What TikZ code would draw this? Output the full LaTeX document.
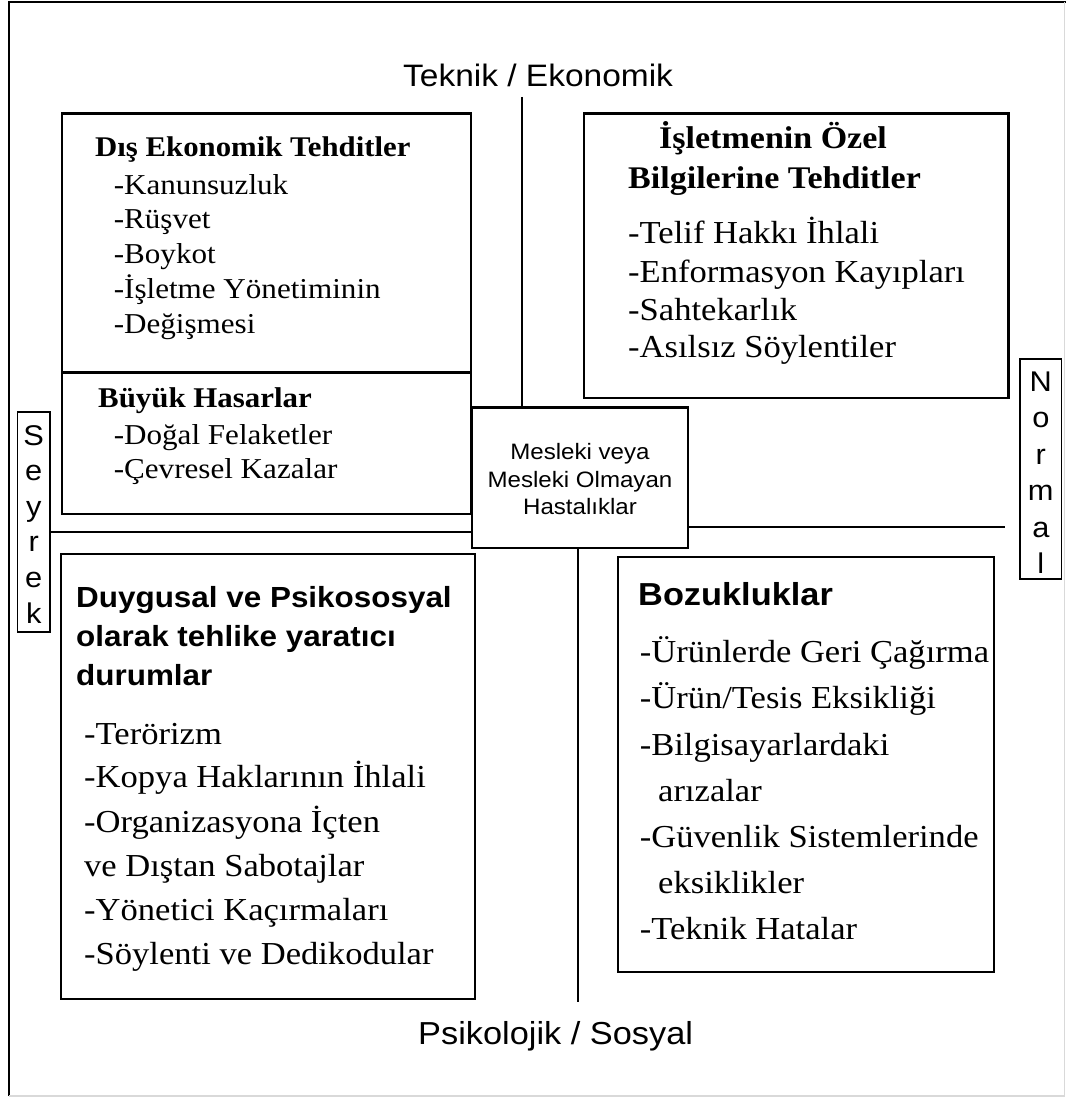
\documentclass[tikz,border=0pt]{standalone}
\usepackage{fontspec}
\setmainfont{Liberation Serif}[FakeStretch=1.08]
\newfontfamily\arialf{Liberation Sans}[FakeStretch=1.08]
\begin{document}
\begin{tikzpicture}[x=1pt,y=-1pt,
  box/.style={draw, line width=2.2pt, inner sep=0pt, outer sep=0pt, anchor=north west},
  thinbox/.style={draw, line width=1.8pt, inner sep=0pt, outer sep=0pt, anchor=north west},
  conn/.style={line width=2pt},
  txt/.style={anchor=base west, inner sep=0pt},
  ctxt/.style={anchor=base, inner sep=0pt},
  itemA/.style={txt, font=\fontsize{28.8}{34}\selectfont},
  itemB/.style={txt, font=\fontsize{32}{38}\selectfont},
  headA/.style={txt, font=\bfseries\fontsize{28.6}{34}\selectfont},
  letters/.style={ctxt, font=\arialf\fontsize{28.5}{34}\selectfont},
  midtxt/.style={ctxt, font=\arialf\fontsize{22.3}{27}\selectfont}]
\useasboundingbox (0,0) rectangle (1066,1097);
% outer frame
\draw[line width=2pt] (9,1096) -- (9,2) -- (1066,2);
\draw[gray!30, line width=1.2pt] (9,1096) -- (1064.5,1096) -- (1064.5,2);

% boxes
\node[box, minimum width=409pt, minimum height=258.9pt] (dis) at (62,113.6) {};
\node[box, minimum width=409pt, minimum height=141.5pt] (buy) at (62,372.5) {};
\node[box, minimum width=424.5pt, minimum height=284.4pt] (isl) at (584,113.6) {};
\node[box, minimum width=216pt, minimum height=140.5pt] (mid) at (472,407.5) {};
\node[box, minimum width=414pt, minimum height=445pt] (duy) at (61,554) {};
\node[box, minimum width=376pt, minimum height=415pt] (boz) at (618,557) {};
\node[thinbox, minimum width=32.5pt, minimum height=220pt] (sey) at (17.5,412) {};
\node[thinbox, minimum width=41.5pt, minimum height=220pt] (nor) at (1020,359) {};

% connectors
\coordinate (topend) at (522,97);
\draw[conn] (topend) -- (topend |- mid.north);
\coordinate (botend) at (578,1002);
\draw[conn] (botend |- mid.south) -- (botend);
\coordinate (lh) at (50,532);
\draw[conn] (sey.east |- lh) -- (lh -| mid.west);
\coordinate (rh) at (1005,527);
\draw[conn] (rh -| mid.east) -- (rh);

% axis labels
\node[txt, font=\arialf\fontsize{31}{36}\selectfont] (tek) at (403,87) {Teknik / Ekonomik};
\node[txt, font=\arialf\fontsize{31.8}{36}\selectfont] (psi) at (418,1044) {Psikolojik / Sosyal};

% box 1
\node[headA, font=\bfseries\fontsize{28.5}{34}\selectfont] (dish) at (95,157) {Dış Ekonomik Tehditler};
\node[itemA] (dis1) at (113.6,194.6) {-Kanunsuzluk};
\node[itemA] (dis2) at (113.6,228.6) {-Rüşvet};
\node[itemA] (dis3) at (113.6,263.6) {-Boykot};
\node[itemA] (dis4) at (113.6,298) {-İşletme Yönetiminin};
\node[itemA] (dis5) at (113.6,333) {-Değişmesi};

% box 2
\node[headA] (buyh) at (98,407) {Büyük Hasarlar};
\node[itemA] (buy1) at (113.6,444) {-Doğal Felaketler};
\node[itemA] (buy2) at (113.6,478.6) {-Çevresel Kazalar};

% box 3
\node[txt, font=\bfseries\fontsize{31.5}{38}\selectfont] (islh1) at (659,149) {İşletmenin Özel};
\node[txt, font=\bfseries\fontsize{31.5}{38}\selectfont] (islh2) at (628,188) {Bilgilerine Tehditler};
\node[itemB] (isl1) at (628,243) {-Telif Hakkı İhlali};
\node[itemB] (isl2) at (628,282) {-Enformasyon Kayıpları};
\node[itemB] (isl3) at (628,320) {-Sahtekarlık};
\node[itemB] (isl4) at (628,357) {-Asılsız Söylentiler};

% centre box
\node[midtxt] (mid1) at (580,459) {Mesleki veya};
\node[midtxt] (mid2) at (580,487) {Mesleki Olmayan};
\node[midtxt] (mid3) at (580,514) {Hastalıklar};

% box 4
\node[txt, font=\arialf\bfseries\fontsize{29.1}{39}\selectfont] (duyh1) at (76,607.5) {Duygusal ve Psikososyal};
\node[txt, font=\arialf\bfseries\fontsize{29.1}{39}\selectfont] (duyh2) at (76,646.6) {olarak tehlike yaratıcı};
\node[txt, font=\arialf\bfseries\fontsize{29.1}{39}\selectfont] (duyh3) at (76,685.6) {durumlar};
\node[itemB] (duy1) at (84,744) {-Terörizm};
\node[itemB] (duy2) at (84,787) {-Kopya Haklarının İhlali};
\node[itemB] (duy3) at (84,832) {-Organizasyona İçten};
\node[itemB] (duy4) at (84,876) {ve Dıştan Sabotajlar};
\node[itemB] (duy5) at (84,920) {-Yönetici Kaçırmaları};
\node[itemB] (duy6) at (84,964.5) {-Söylenti ve Dedikodular};

% box 5
\node[txt, font=\arialf\bfseries\fontsize{31.8}{38}\selectfont] (bozh) at (638,605.7) {Bozukluklar};
\node[itemB] (boz1) at (639.6,662.6) {-Ürünlerde Geri Çağırma};
\node[itemB] (boz2) at (639.6,708.7) {-Ürün/Tesis Eksikliği};
\node[itemB] (boz3) at (639.6,755) {-Bilgisayarlardaki};
\node[itemB] (boz4) at (658,801) {arızalar};
\node[itemB] (boz5) at (639.6,847) {-Güvenlik Sistemlerinde};
\node[itemB] (boz6) at (658,893.5) {eksiklikler};
\node[itemB] (boz7) at (639.6,939.6) {-Teknik Hatalar};

% Seyrek
\node[letters] (s1) at (33.7,445) {S};
\node[letters] (s2) at (33.7,480.6) {e};
\node[letters] (s3) at (33.7,516.2) {y};
\node[letters] (s4) at (33.7,551.8) {r};
\node[letters] (s5) at (33.7,587.4) {e};
\node[letters] (s6) at (33.7,623) {k};

% Normal
\node[letters] (n1) at (1040.8,391) {N};
\node[letters] (n2) at (1040.8,427.5) {o};
\node[letters] (n3) at (1040.8,464) {r};
\node[letters] (n4) at (1040.8,500.5) {m};
\node[letters] (n5) at (1040.8,537) {a};
\node[letters] (n6) at (1040.8,573.5) {l};
\end{tikzpicture}
\end{document}
